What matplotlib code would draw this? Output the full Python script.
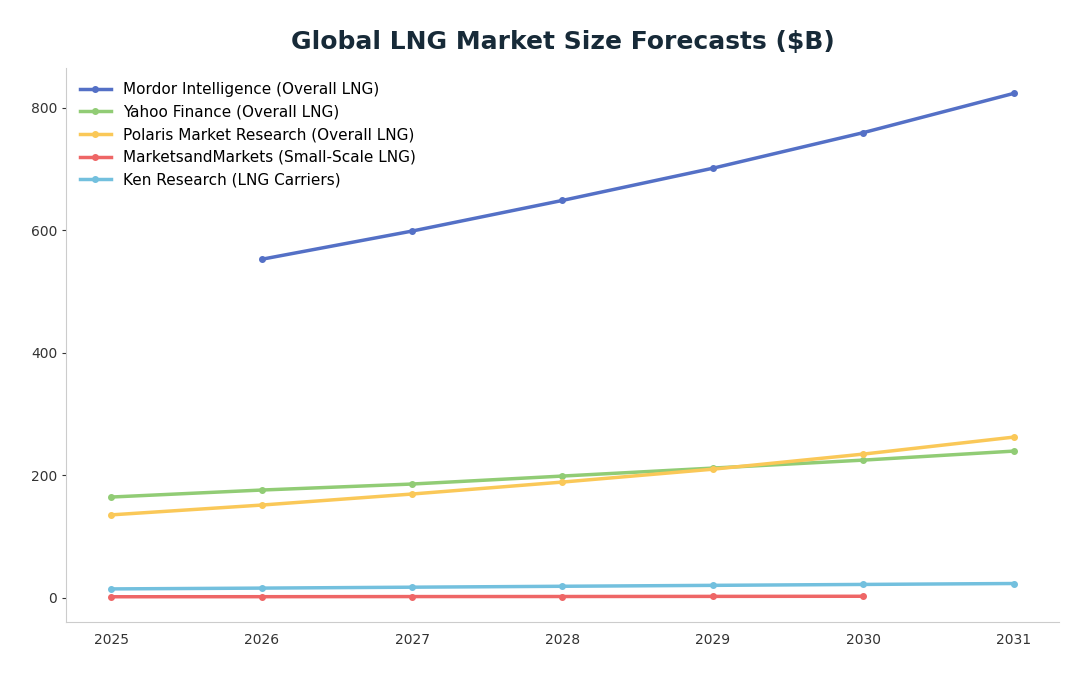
import matplotlib.pyplot as plt

years = [2025, 2026, 2027, 2028, 2029, 2030, 2031]

# forecast values in $B
mordor_years = [2026, 2027, 2028, 2029, 2030, 2031]
mordor = [552.5, 598.5, 648.5, 701, 759, 823]
yahoo = [164.6, 176, 185.8, 198.8, 211.8, 224.8, 239.5]
polaris = [135.5, 151.5, 169.5, 189, 210, 234.6, 262.3]
mm_years = [2025, 2026, 2027, 2028, 2029, 2030]
marketsandmarkets = [1.9, 2.0, 2.2, 2.3, 2.5, 2.7]
ken = [14.7, 16, 17.5, 19, 20.5, 22, 23.5]

labels = [
    "Mordor Intelligence (Overall LNG)",
    "Yahoo Finance (Overall LNG)",
    "Polaris Market Research (Overall LNG)",
    "MarketsandMarkets (Small-Scale LNG)",
    "Ken Research (LNG Carriers)",
]
colors = ["#5470c6", "#91cc75", "#fac858", "#ee6666", "#73c0de"]

fig, ax = plt.subplots(figsize=(10.88, 6.76), dpi=100)
fig.subplots_adjust(left=0.061, right=0.973, top=0.899, bottom=0.08)

series = [
    (mordor_years, mordor),
    (years, yahoo),
    (years, polaris),
    (mm_years, marketsandmarkets),
    (years, ken),
]
for (xs, ys), lab, col in zip(series, labels, colors):
    ax.plot(xs, ys, color=col, linewidth=2.5, marker="o", markersize=4, label=lab)

ax.set_title("Global LNG Market Size Forecasts ($B)", fontsize=18, fontweight="bold",
             color="#172a38", pad=14)
ax.set_xticks(years)
ax.set_yticks([0, 200, 400, 600, 800])
ax.tick_params(labelsize=10, colors="#333333", length=3)
ax.tick_params(axis="x", length=0, pad=8)
for s in ["top", "right"]:
    ax.spines[s].set_visible(False)
for s in ["left", "bottom"]:
    ax.spines[s].set_color("#cccccc")

ax.legend(loc="upper left", frameon=False, fontsize=11, handlelength=2.0)

plt.savefig("out.png")
plt.close()
